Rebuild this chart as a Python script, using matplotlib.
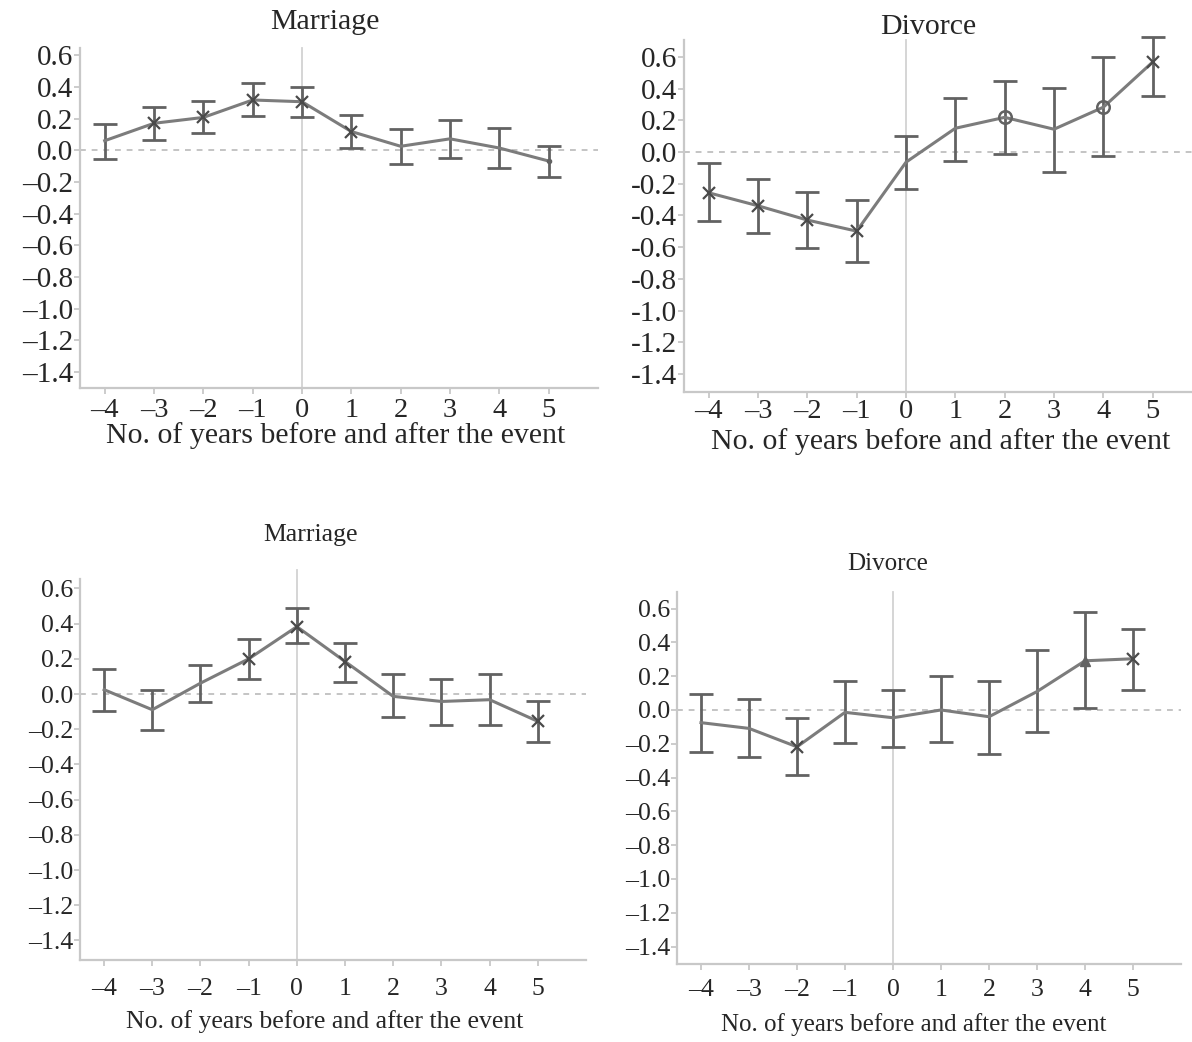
import matplotlib
matplotlib.use("Agg")
import matplotlib.pyplot as plt

plt.rcParams['font.family'] = ['Liberation Serif', 'DejaVu Serif']

# ---------------- data ----------------
years = [-4, -3, -2, -1, 0, 1, 2, 3, 4, 5]
yticks = [0.6, 0.4, 0.2, 0.0, -0.2, -0.4, -0.6, -0.8, -1.0, -1.2, -1.4]
titles = ["Marriage", "Divorce", "Marriage", "Divorce"]
xlabel = "No. of years before and after the event"

# top-left: Marriage
m1_est = [0.06, 0.17, 0.207, 0.317, 0.306, 0.118, 0.025, 0.072, 0.014, -0.068]
m1_lo = [-0.058, 0.066, 0.108, 0.219, 0.211, 0.014, -0.087, -0.046, -0.11, -0.17]
m1_hi = [0.165, 0.27, 0.31, 0.422, 0.397, 0.22, 0.135, 0.19, 0.143, 0.027]
m1_mk = ['', 'x', 'x', 'x', 'x', 'x', '', '', '', '.']

# top-right: Divorce
d1_est = [-0.257, -0.339, -0.429, -0.499, -0.064, 0.15, 0.219, 0.144, 0.283, 0.568]
d1_lo = [-0.433, -0.508, -0.606, -0.692, -0.236, -0.054, -0.011, -0.124, -0.026, 0.354]
d1_hi = [-0.071, -0.171, -0.25, -0.304, 0.10, 0.343, 0.45, 0.403, 0.60, 0.724]
d1_mk = ['x', 'x', 'x', 'x', '', '', 'o', '', 'o', 'x']

# bottom-left: Marriage
m2_est = [0.025, -0.089, 0.062, 0.20, 0.383, 0.185, -0.013, -0.042, -0.032, -0.155]
m2_lo = [-0.094, -0.202, -0.047, 0.087, 0.289, 0.07, -0.13, -0.174, -0.174, -0.272]
m2_hi = [0.143, 0.025, 0.166, 0.311, 0.487, 0.289, 0.113, 0.087, 0.113, -0.042]
m2_mk = ['', '', '', 'x', 'x', 'x', '', '', '', 'x']

# bottom-right: Divorce
d2_est = [-0.075, -0.109, -0.218, -0.014, -0.046, 0.0, -0.04, 0.109, 0.291, 0.303]
d2_lo = [-0.251, -0.277, -0.386, -0.198, -0.218, -0.192, -0.263, -0.133, 0.01, 0.119]
d2_hi = [0.093, 0.063, -0.05, 0.174, 0.119, 0.202, 0.174, 0.352, 0.578, 0.481]
d2_mk = ['', '', 'x', '', '', '', '', '', '^', 'x']

W, H = 1192, 1042
fig = plt.figure(figsize=(W / 100, H / 100), dpi=100)

SPINE = '#c8c8c8'
LINE = '#7c7c7c'
EBAR = '#626262'
TXT = '#262626'


def fmt(v, minus):
    s = f"{abs(v):.1f}"
    return (minus + s) if v < -1e-9 else s


def panel(rect_px, est, lo, hi, marks, ylim, spine_top, ymin_char, fs_tick, fs_xt, fs_lab,
          title, title_xy, xlab_xy, xtick_pad):
    l, r, t, b = rect_px
    ax = fig.add_axes([l / W, 1 - b / H, (r - l) / W, (b - t) / H])
    ax.set_xlim(-4.5, 6.0)
    ax.set_ylim(*ylim)
    for s in ['top', 'right']:
        ax.spines[s].set_visible(False)
    for s in ['left', 'bottom']:
        ax.spines[s].set_color(SPINE)
        ax.spines[s].set_linewidth(1.6)
    ax.spines['left'].set_bounds(ylim[0], spine_top)
    ax.set_xticks(years)
    ax.set_xticklabels([('\u2013' + str(abs(v))) if v < 0 else str(v) for v in years])
    ax.set_yticks(yticks)
    ax.set_yticklabels([fmt(v, ymin_char) for v in yticks])
    ax.tick_params(axis='both', direction='out', length=4, width=1.3, color=SPINE,
                   labelcolor=TXT)
    ax.tick_params(axis='y', pad=1, labelsize=fs_tick)
    ax.tick_params(axis='x', pad=xtick_pad, labelsize=fs_xt)
    # reference lines
    ax.axvline(0, color='#d2d2d2', lw=1.3, zorder=1, clip_on=False)
    ax.axhline(0, color='#c4c4c4', lw=1.4, ls=(0, (3, 3)), zorder=1)
    # error bars
    yerr = [[e - a for e, a in zip(est, lo)], [c - e for e, c in zip(est, hi)]]
    ax.errorbar(years, est, yerr=yerr, fmt='none', ecolor=EBAR, elinewidth=2.0,
                capsize=8.5, capthick=2.0, zorder=3, clip_on=False)
    ax.plot(years, est, color=LINE, lw=2.2, zorder=4, clip_on=False)
    for x, y, m in zip(years, est, marks):
        if not m:
            continue
        if m == 'o':
            ax.plot([x], [y], marker='o', ms=9, mfc='none', mec=EBAR, mew=1.8, zorder=5)
        elif m == '^':
            ax.plot([x], [y], marker='^', ms=7, mfc=EBAR, mec=EBAR, zorder=5)
        elif m == '.':
            ax.plot([x], [y], marker='o', ms=3, mfc=EBAR, mec=EBAR, zorder=5)
        else:
            ax.plot([x], [y], marker='x', ms=8, mec='#4a4a4a', mew=1.6, zorder=5)
    fig.text(title_xy[0] / W, 1 - title_xy[1] / H, title, ha='center', va='center',
             fontsize=fs_lab, color=TXT)
    fig.text(xlab_xy[0] / W, 1 - xlab_xy[1] / H, xlabel, ha='center', va='center',
             fontsize=fs_lab, color=TXT)
    return ax


panel((80, 598, 48, 388), m1_est, m1_lo, m1_hi, m1_mk, (-1.50, 0.645), 0.645, '\u2013',
      21, 20.5, 21.5, titles[0], (325, 22), (336, 436), 3)
panel((684, 1202, 40, 392), d1_est, d1_lo, d1_hi, d1_mk, (-1.514, 0.707), 0.707, '-',
      21, 20.5, 21.5, titles[1], (928, 27), (941, 442), 1)
panel((80, 586, 570, 960), m2_est, m2_lo, m2_hi, m2_mk, (-1.511, 0.705), 0.656, '\u2013',
      18.5, 18.5, 18.5, titles[2], (311, 535), (325, 1022), 9)
panel((677, 1181, 592, 964), d2_est, d2_lo, d2_hi, d2_mk, (-1.503, 0.698), 0.698, '\u2013',
      18.5, 18.5, 18, titles[3], (888, 564), (914, 1025), 7)

fig.savefig('out.png', dpi=100)
